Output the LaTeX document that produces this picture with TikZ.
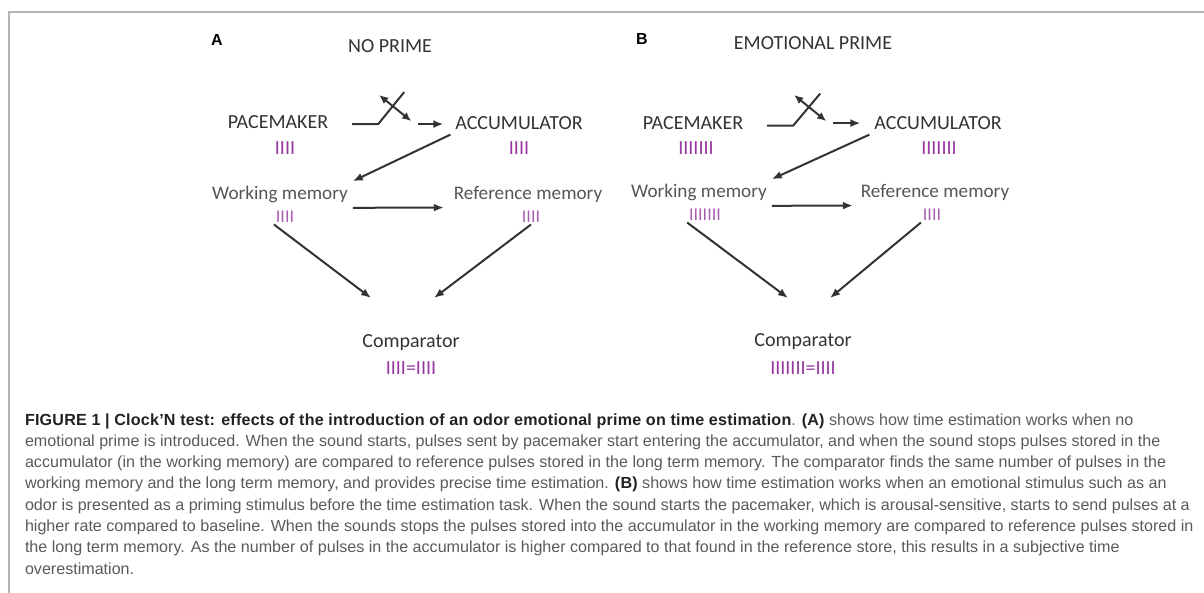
\documentclass[tikz,border=0pt]{standalone}
\usepackage{fontspec}
\setmainfont{Carlito}
\newfontfamily\capfont{Liberation Sans}
\usetikzlibrary{arrows.meta}

\definecolor{labelgray}{HTML}{333333}
\definecolor{memgray}{HTML}{555555}
\definecolor{pulse}{RGB}{150,55,160}
\definecolor{linegray}{HTML}{333333}
\definecolor{framegray}{HTML}{B4B4B4}
\definecolor{capgray}{HTML}{5A5A5A}
\definecolor{capdark}{HTML}{222222}

\tikzset{
  lbl/.style={anchor=base, inner sep=4pt, text=labelgray, font=\fontsize{20}{24}\selectfont},
  mem/.style={anchor=base, inner sep=4pt, text=memgray, font=\fontsize{19.2}{22}\selectfont},
  bars/.style={anchor=base, inner sep=1pt, text=pulse, font=\fontsize{20}{24}\selectfont},
  membars/.style={anchor=base, inner sep=1pt, text=pulse!80, font=\fontsize{18}{22}\selectfont},
  tag/.style={anchor=base, inner sep=0pt, text=black, font=\capfont\bfseries\fontsize{16}{18}\selectfont},
  capline/.style={anchor=base west, inner sep=0pt, text=capgray, font=\capfont\fontsize{16.1}{18}\selectfont},
  flow/.style={-{Latex[length=10pt,width=8pt]}},
  swarrow/.style={{Latex[length=9pt,width=8pt]}-{Latex[length=9pt,width=8pt]}}
}
\newcommand{\capbold}[1]{\textcolor{capdark}{\bfseries\addfontfeature{LetterSpace=1.3}#1}}

\begin{document}
\begin{tikzpicture}[x=1pt, y=-1pt, line width=2pt, draw=linegray]
\useasboundingbox (0,0) rectangle (1204,593);
\draw[framegray, line width=1.6pt] (9,593) -- (9,12) -- (1204,12);

% panel A
\node[tag] (tagA) at (217,46) {A};
\node[lbl] (titleA) at (390,52.5) {NO PRIME};
\node[lbl] (pmA) at (278,129) {PACEMAKER};
\node[bars] (pmAbar) at (285,154.5) {IIII};
\node[lbl] (accA) at (519,129.5) {ACCUMULATOR};
\node[bars] (accAbar) at (519,154.5) {IIII};
\node[mem] (wmA) at (280,199.5) {Working memory};
\node[membars] (wmAbar) at (285,222.5) {IIII};
\node[mem] (rmA) at (528,199.5) {Reference memory};
\node[membars] (rmAbar) at (531,222.5) {IIII};
\node[lbl] (cmpA) at (411,348) {Comparator};
\node[bars] (cmpAbar) at (411,374.5) {IIII=IIII};
\coordinate (inA1) at (371,298);
\coordinate (inA2) at (434,298);

\draw (pmA.east) ++(19,1.5) -- ++(26,0) -- ++(26,-32);
\draw[swarrow] (pmA.east) ++(46,-27.5) -- ++(32,26);
\draw[flow] ([xshift=-32pt,yshift=-1pt]accA.west) -- ([xshift=-7pt,yshift=-1pt]accA.west);
\draw[flow] (accA.south west) -- (wmA.north east);
\draw[flow, shorten >=5pt] (wmA.south east) -- (rmA.south west);
\draw[flow] (wmAbar.south west) -- (inA1);
\draw[flow] (rmAbar.south) -- (inA2);

% panel B
\node[tag] (tagB) at (642,45) {B};
\node[lbl] (titleB) at (813,49.5) {EMOTIONAL PRIME};
\node[lbl] (pmB) at (693,129.5) {PACEMAKER};
\node[bars] (pmBbar) at (696,154.5) {IIIIIII};
\node[lbl] (accB) at (938,129.5) {ACCUMULATOR};
\node[bars] (accBbar) at (939,154.5) {IIIIIII};
\node[mem] (wmB) at (699,197.5) {Working memory};
\node[membars] (wmBbar) at (705,220.5) {IIIIIII};
\node[mem] (rmB) at (935,197.5) {Reference memory};
\node[membars] (rmBbar) at (932,220.5) {IIII};
\node[lbl] (cmpB) at (803,346) {Comparator};
\node[bars] (cmpBbar) at (803,374.5) {IIIIIII=IIII};
\coordinate (inB1) at (788,298);
\coordinate (inB2) at (830,298);

\draw (pmB.east) ++(19,2.5) -- ++(26,0) -- ++(27,-32);
\draw[swarrow] (pmB.east) ++(46,-28) -- ++(32,26);
\draw[flow] ([xshift=-36pt]accB.west) -- ([xshift=-9pt]accB.west);
\draw[flow] (accB.south west) -- (wmB.north east);
\draw[flow, shorten >=3pt] (wmB.south east) -- (rmB.south west);
\draw[flow] (wmBbar.south west) -- (inB1);
\draw[flow] (rmBbar.south west) -- (inB2);

% caption
\node[capline] (cap1) at (24,425) {\capbold{FIGURE 1 | Clock’N test: effects of the introduction of an odor emotional prime on time estimation}. \capbold{(A)} shows how time estimation works when no};
\node[capline] (cap2) at (24,446.3) {emotional prime is introduced. When the sound starts, pulses sent by pacemaker start entering the accumulator, and when the sound stops pulses stored in the};
\node[capline] (cap3) at (24,467.6) {accumulator (in the working memory) are compared to reference pulses stored in the long term memory. The comparator finds the same number of pulses in the};
\node[capline] (cap4) at (24,488.9) {working memory and the long term memory, and provides precise time estimation. \capbold{(B)} shows how time estimation works when an emotional stimulus such as an};
\node[capline] (cap5) at (24,510.2) {odor is presented as a priming stimulus before the time estimation task. When the sound starts the pacemaker, which is arousal-sensitive, starts to send pulses at a};
\node[capline] (cap6) at (24,531.5) {higher rate compared to baseline. When the sounds stops the pulses stored into the accumulator in the working memory are compared to reference pulses stored in};
\node[capline] (cap7) at (24,552.8) {the long term memory. As the number of pulses in the accumulator is higher compared to that found in the reference store, this results in a subjective time};
\node[capline] (cap8) at (24,574.1) {overestimation.};
\end{tikzpicture}
\end{document}
